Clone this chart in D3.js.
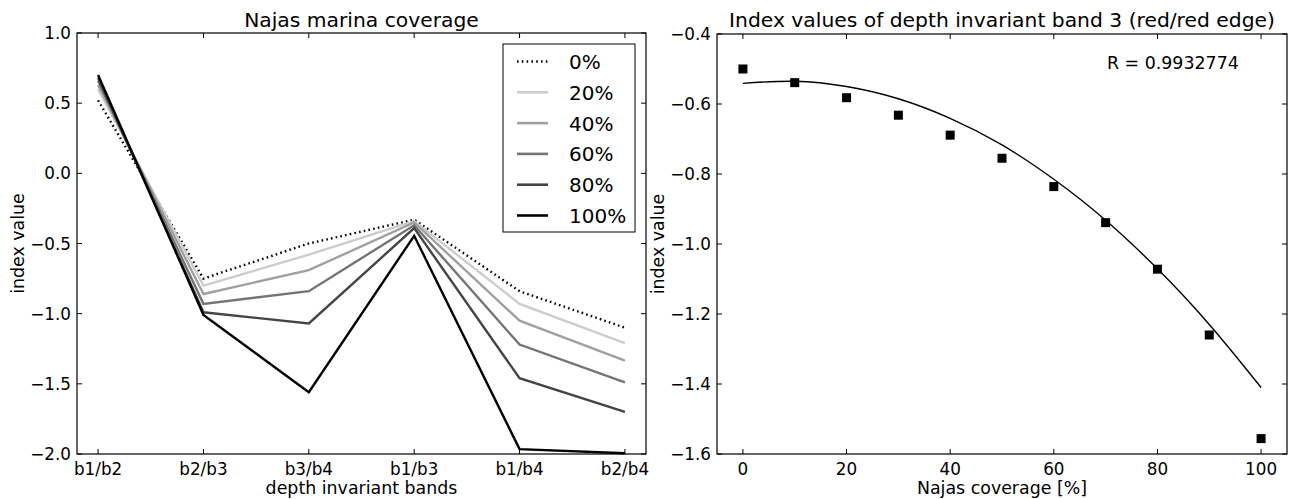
<!DOCTYPE html>
<html>
<head>
<meta charset="utf-8">
<script src="https://cdn.jsdelivr.net/npm/d3@7"></script>
<style>
  body { margin: 0; background: #fff; }
  svg text { font-family: "DejaVu Sans", sans-serif; fill: #000; }
</style>
</head>
<body>
<div id="chart"></div>
<script>
// left panel: index values per band ratio, one series per coverage level
var bands = ['b1/b2', 'b2/b3', 'b3/b4', 'b1/b3', 'b1/b4', 'b2/b4'];
var coverageLabels = ['0%', '20%', '40%', '60%', '80%', '100%'];
var cov0   = [0.52, -0.75, -0.50, -0.33, -0.84, -1.10];
var cov20  = [0.60, -0.80, -0.58, -0.34, -0.93, -1.21];
var cov40  = [0.63, -0.86, -0.69, -0.35, -1.05, -1.335];
var cov60  = [0.66, -0.93, -0.84, -0.37, -1.22, -1.49];
var cov80  = [0.68, -0.99, -1.07, -0.39, -1.46, -1.70];
var cov100 = [0.70, -1.01, -1.56, -0.445, -1.965, -1.995];
var seriesColors = ['#000', '#cccccc', '#a0a0a0', '#747474', '#444444', '#000'];
var leftTicks = [1.0, 0.5, 0.0, -0.5, -1.0, -1.5, -2.0];

// right panel: measured points and fitted curve
var coverage = [0, 10, 20, 30, 40, 50, 60, 70, 80, 90, 100];
var measured = [-0.50, -0.539, -0.582, -0.632, -0.689, -0.755, -0.836, -0.939, -1.072, -1.26, -1.556];
var fitted = [-0.541, -0.535, -0.550, -0.585, -0.641, -0.717, -0.815, -0.932, -1.071, -1.230, -1.410];
var rightXTicks = [0, 20, 40, 60, 80, 100];
var rightYTicks = [-0.4, -0.6, -0.8, -1.0, -1.2, -1.4, -1.6];

var width = 1294, height = 499;
var tickSize = '16.8px', labelSize = '17.4px', titleSize = '20.3px';
var fmt = function (d) { return d3.format('.1f')(d).replace('-', '\u2212'); };

var svg = d3.select('#chart').append('svg')
    .attr('width', width)
    .attr('height', height);

// ---------- left panel ----------
var L = { left: 77, right: 646, top: 33, bottom: 454 };
var xL = d3.scaleLinear().domain([-0.2, 5.2]).range([L.left, L.right]);
var yL = d3.scaleLinear().domain([-2, 1]).range([L.bottom, L.top]);

var gl = svg.append('g');
var allSeries = [cov0, cov20, cov40, cov60, cov80, cov100];
var lineL = d3.line()
    .x(function (d, i) { return xL(i); })
    .y(function (d) { return yL(d); });

allSeries.forEach(function (s, k) {
    gl.append('path')
        .datum(s)
        .attr('d', lineL)
        .attr('fill', 'none')
        .attr('stroke', seriesColors[k])
        .attr('stroke-width', 2.4)
        .attr('stroke-dasharray', k === 0 ? '1.6,3.2' : null);
});

drawFrame(gl, L);

bands.forEach(function (b, i) {
    var x = xL(i);
    tick(gl, x, L.bottom, x, L.bottom - 5);
    tick(gl, x, L.top, x, L.top + 5);
    gl.append('text').attr('x', x).attr('y', 474.5)
        .attr('text-anchor', 'middle').style('font-size', tickSize).text(b);
});
leftTicks.forEach(function (v) {
    var y = yL(v);
    tick(gl, L.left, y, L.left + 5, y);
    tick(gl, L.right, y, L.right - 5, y);
    gl.append('text').attr('x', L.left - 6).attr('y', y + 6)
        .attr('text-anchor', 'end').style('font-size', tickSize).text(fmt(v));
});

gl.append('text').attr('x', (L.left + L.right) / 2).attr('y', 27)
    .attr('text-anchor', 'middle').style('font-size', titleSize).text('Najas marina coverage');
gl.append('text').attr('x', (L.left + L.right) / 2).attr('y', 494)
    .attr('text-anchor', 'middle').style('font-size', labelSize).text('depth invariant bands');
gl.append('text').attr('transform', 'translate(24,' + ((L.top + L.bottom) / 2) + ') rotate(-90)')
    .attr('text-anchor', 'middle').style('font-size', labelSize).text('index value');

// legend
var lg = gl.append('g');
lg.append('rect').attr('x', 503).attr('y', 44).attr('width', 132).attr('height', 188)
    .attr('fill', '#fff').attr('stroke', '#000').attr('stroke-width', 1);
coverageLabels.forEach(function (lab, k) {
    var y = 61.5 + k * 30.8;
    lg.append('line').attr('x1', 517).attr('x2', 548).attr('y1', y).attr('y2', y)
        .attr('stroke', seriesColors[k]).attr('stroke-width', 2.6)
        .attr('stroke-dasharray', k === 0 ? '1.6,3.2' : null);
    lg.append('text').attr('x', 569).attr('y', y + 7.5)
        .style('font-size', '20px').text(lab);
});

// ---------- right panel ----------
var R = { left: 717, right: 1287, top: 34, bottom: 454 };
var xR = d3.scaleLinear().domain([-5, 105]).range([R.left, R.right]);
var yR = d3.scaleLinear().domain([-1.6, -0.4]).range([R.bottom, R.top]);

var gr = svg.append('g');
gr.append('path')
    .datum(fitted)
    .attr('d', d3.line()
        .x(function (d, i) { return xR(coverage[i]); })
        .y(function (d) { return yR(d); })
        .curve(d3.curveNatural))
    .attr('fill', 'none')
    .attr('stroke', '#000')
    .attr('stroke-width', 1.4);

gr.selectAll('rect.pt')
    .data(measured)
    .enter().append('rect')
    .attr('class', 'pt')
    .attr('x', function (d, i) { return xR(coverage[i]) - 4.5; })
    .attr('y', function (d) { return yR(d) - 4.5; })
    .attr('width', 9)
    .attr('height', 9)
    .attr('fill', '#000');

drawFrame(gr, R);

rightXTicks.forEach(function (v) {
    var x = xR(v);
    tick(gr, x, R.bottom, x, R.bottom - 5);
    tick(gr, x, R.top, x, R.top + 5);
    gr.append('text').attr('x', x).attr('y', 474.5)
        .attr('text-anchor', 'middle').style('font-size', tickSize).text(v);
});
rightYTicks.forEach(function (v) {
    var y = yR(v);
    tick(gr, R.left, y, R.left + 5, y);
    tick(gr, R.right, y, R.right - 5, y);
    gr.append('text').attr('x', R.left - 6).attr('y', y + 6)
        .attr('text-anchor', 'end').style('font-size', tickSize).text(fmt(v));
});

gr.append('text').attr('x', (R.left + R.right) / 2).attr('y', 27)
    .attr('text-anchor', 'middle').style('font-size', titleSize)
    .text('Index values of depth invariant band 3 (red/red edge)');
gr.append('text').attr('x', (R.left + R.right) / 2).attr('y', 494)
    .attr('text-anchor', 'middle').style('font-size', labelSize).text('Najas coverage [%]');
gr.append('text').attr('transform', 'translate(664,' + ((R.top + R.bottom) / 2) + ') rotate(-90)')
    .attr('text-anchor', 'middle').style('font-size', labelSize).text('index value');
gr.append('text').attr('x', 1107).attr('y', 69)
    .style('font-size', labelSize).text('R = 0.9932774');

function drawFrame(g, b) {
    g.append('rect')
        .attr('x', b.left).attr('y', b.top)
        .attr('width', b.right - b.left).attr('height', b.bottom - b.top)
        .attr('fill', 'none').attr('stroke', '#000').attr('stroke-width', 1.2);
}

function tick(g, x1, y1, x2, y2) {
    g.append('line').attr('x1', x1).attr('y1', y1).attr('x2', x2).attr('y2', y2)
        .attr('stroke', '#000').attr('stroke-width', 1);
}
</script>
</body>
</html>
